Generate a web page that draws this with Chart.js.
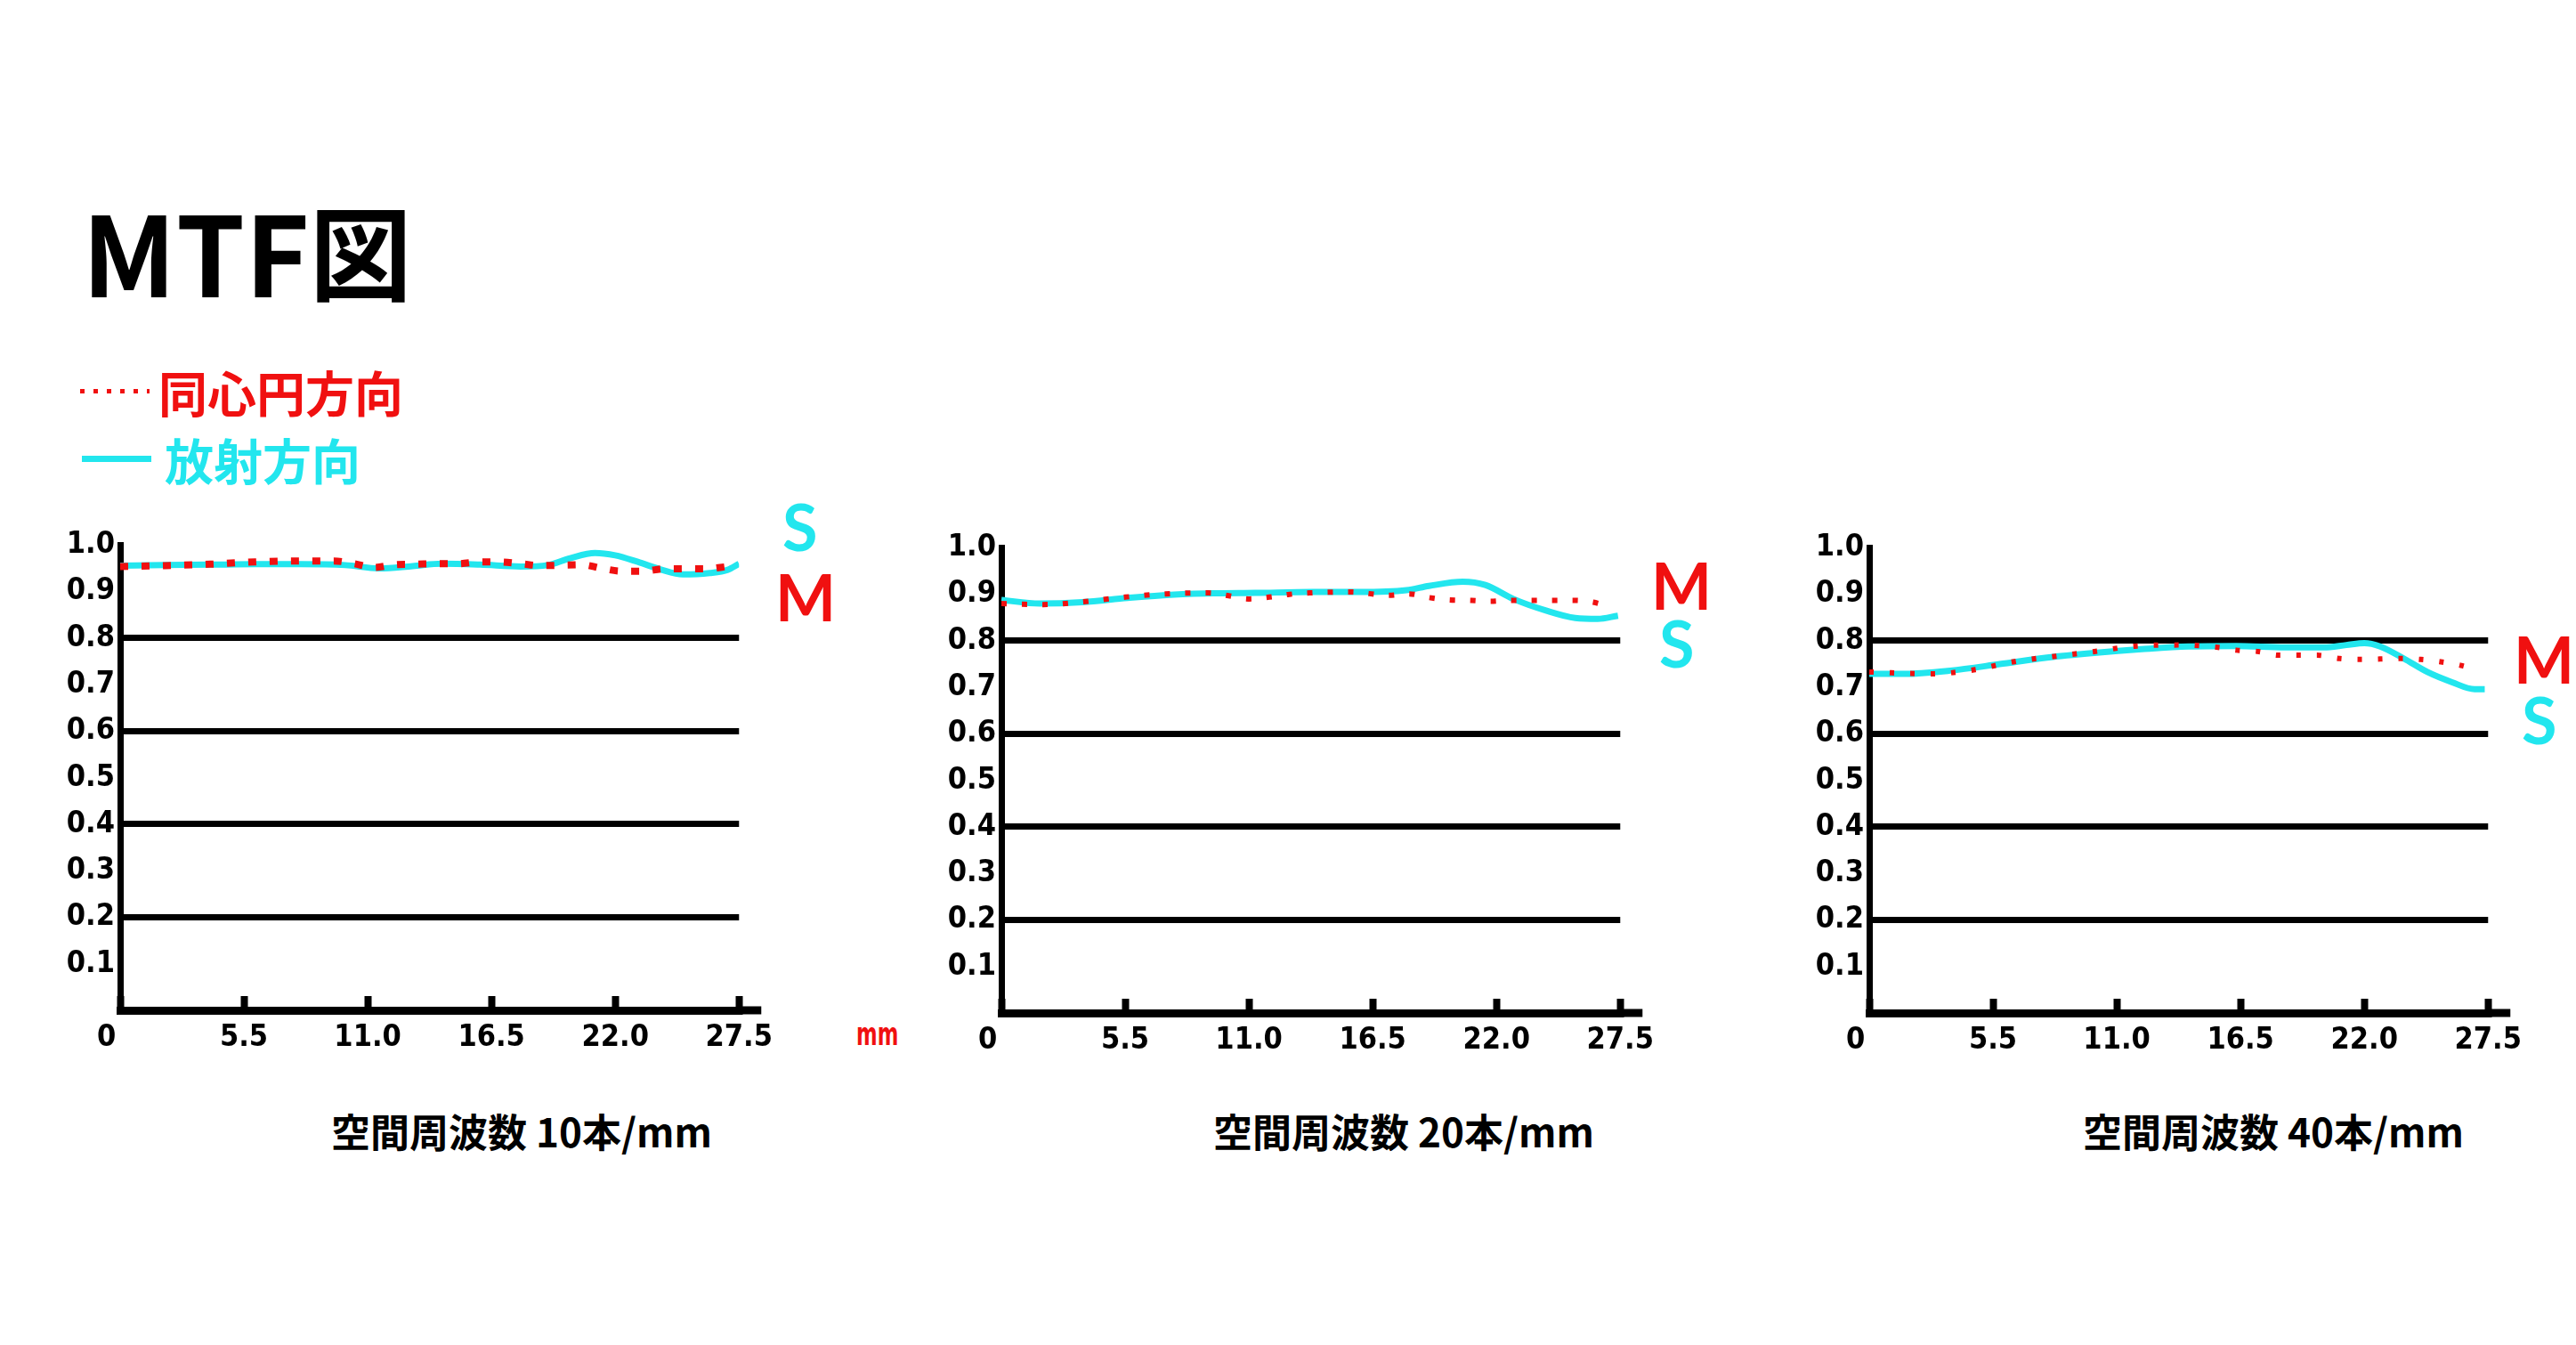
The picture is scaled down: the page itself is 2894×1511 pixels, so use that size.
<!DOCTYPE html>
<html lang="ja">
<head>
<meta charset="utf-8">
<title>MTF図</title>
<script src="https://cdn.jsdelivr.net/npm/chart.js@4.4.1/dist/chart.umd.min.js"></script>
<style>
  html, body { margin: 0; padding: 0; background: #fff; }
  body { width: 2894px; height: 1511px; position: relative; overflow: hidden; font-family: 'Noto Sans CJK JP', sans-serif; }
  canvas { position: absolute; }
  #title { position: absolute; left: 92px; top: 218px; font-size: 124px; line-height: 1; font-weight: 700; color: #000; white-space: nowrap; }
  #title span { font-size: 115px; vertical-align: 5px; }
  .legend-row { position: absolute; display: flex; align-items: center; height: 60px; font-size: 55px; font-weight: 700; line-height: 60px; white-space: nowrap; }
  #leg-m { left: 90px; top: 409px; color: #f01010; }
  #leg-m .swatch { width: 78px; height: 5px; background: repeating-linear-gradient(to right, #f01010 0 5px, transparent 5px 15px); margin-right: 10px; }
  #leg-s { left: 92px; top: 485px; color: #22e6ee; }
  #leg-s .swatch { width: 78px; height: 7px; background: #22e6ee; margin-right: 15px; }
  .caption { position: absolute; width: 600px; top: 1240px; text-align: center; font-size: 44px; line-height: 60px; font-weight: 700; color: #000; white-space: nowrap; }
  .tag { position: absolute; font-family: Lato, 'Noto Sans', sans-serif; font-weight: 700; font-size: 72px; line-height: 72px; }
  .tag.m { color: #f01010; }
  .tag.s { color: #22e6ee; }
  #unit { position: absolute; left: 962px; top: 1142px; color: #f01010; font-family: 'Liberation Sans Narrow', 'DejaVu Sans Condensed', sans-serif; font-weight: 700; font-size: 36px; line-height: 40px; transform: scaleX(0.7); transform-origin: left top; }
</style>
</head>
<body>
<div id="title">MTF<span>図</span></div>
<div class="legend-row" id="leg-m"><div class="swatch"></div>同心円方向</div>
<div class="legend-row" id="leg-s"><div class="swatch"></div>放射方向</div>

<canvas id="c10" width="840" height="619" style="left:55px; top:586px;"></canvas>
<canvas id="c20" width="840" height="619" style="left:1045px; top:589px;"></canvas>
<canvas id="c40" width="840" height="619" style="left:2020px; top:589px;"></canvas>

<div class="tag s" style="left:879px; top:555px;">S</div>
<div class="tag m" style="left:871px; top:634px;">M</div>
<div class="tag m" style="left:1855px; top:621px;">M</div>
<div class="tag s" style="left:1864px; top:686px;">S</div>
<div class="tag m" style="left:2824px; top:704px;">M</div>
<div class="tag s" style="left:2833px; top:772px;">S</div>
<div id="unit">mm</div>

<div class="caption" style="left:286px;">空間周波数 10本/mm</div>
<div class="caption" style="left:1277px;">空間周波数 20本/mm</div>
<div class="caption" style="left:2254px;">空間周波数 40本/mm</div>

<script>
// axis ticks
const freqTicks = [0, 5.5, 11.0, 16.5, 22.0, 27.5];
const mtfTicks = [0.1, 0.2, 0.3, 0.4, 0.5, 0.6, 0.7, 0.8, 0.9, 1.0];
const gridValues = [0.2, 0.4, 0.6, 0.8];

// 10本/mm
const s10Freq = [0, 2, 4, 6, 8, 10, 11.5, 13, 14.3, 16, 17.8, 19, 20, 21.1, 22, 23, 24, 25, 26.2, 27, 27.5];
const s10Mtf = [0.956, 0.957, 0.958, 0.959, 0.959, 0.957, 0.950, 0.955, 0.960, 0.958, 0.954, 0.957, 0.972, 0.983, 0.978, 0.964, 0.948, 0.937, 0.940, 0.947, 0.960];
const m10Freq = [0, 2, 4, 6, 8, 9.5, 10.4, 11.3, 12.2, 13.1, 14.3, 15, 16, 16.8, 17.8, 18.7, 20.5, 21.4, 22.3, 23.2, 24.2, 26, 27];
const m10Mtf = [0.954, 0.956, 0.959, 0.964, 0.966, 0.966, 0.960, 0.952, 0.958, 0.959, 0.960, 0.960, 0.964, 0.964, 0.960, 0.956, 0.958, 0.950, 0.944, 0.944, 0.949, 0.949, 0.954];

// 20本/mm
const s20Freq = [0, 1.7, 3.6, 5.6, 7.5, 9.4, 11.3, 13.8, 15.9, 18, 19, 20.5, 21.5, 22.75, 24.2, 25.5, 26.5, 27.4];
const s20Mtf = [0.888, 0.880, 0.883, 0.892, 0.899, 0.902, 0.903, 0.905, 0.905, 0.909, 0.918, 0.927, 0.920, 0.890, 0.865, 0.849, 0.847, 0.854];
const m20Freq = [0, 1.85, 3.65, 5.5, 7.3, 9.2, 10.1, 11.0, 11.9, 12.8, 13.7, 15.5, 17.2, 18.1, 19.0, 19.9, 20.9, 21.7, 22.6, 24.4, 25.4, 26.3, 27.1];
const m20Mtf = [0.880, 0.878, 0.884, 0.894, 0.901, 0.903, 0.897, 0.890, 0.894, 0.900, 0.903, 0.905, 0.898, 0.901, 0.893, 0.888, 0.887, 0.885, 0.887, 0.887, 0.887, 0.883, 0.872];

// 40本/mm
const s40Freq = [0, 1.5, 3.6, 5.8, 7.9, 10, 12.1, 14.2, 16.3, 18.5, 20.2, 21.2, 22, 22.7, 23.75, 24.8, 25.9, 26.9, 27.35];
const s40Mtf = [0.729, 0.729, 0.736, 0.750, 0.764, 0.774, 0.782, 0.788, 0.789, 0.786, 0.786, 0.791, 0.795, 0.788, 0.762, 0.733, 0.711, 0.696, 0.696];
const m40Freq = [0, 2.8, 4.7, 6.4, 8.3, 10, 11.9, 13.8, 15.5, 16.3, 17.3, 18.2, 19.9, 20.9, 21.8, 23.6, 24.5, 25.4, 26.3, 27.1];
const m40Mtf = [0.733, 0.729, 0.738, 0.755, 0.767, 0.777, 0.789, 0.791, 0.786, 0.780, 0.777, 0.769, 0.769, 0.762, 0.760, 0.762, 0.760, 0.755, 0.747, 0.736];

const RED = '#f01010';
const CYAN = '#22e6ee';
const tickFont = { family: "'Liberation Sans Narrow', 'DejaVu Sans Condensed', sans-serif", size: 34, weight: 'bold' };

// the hand-drawn x axis runs a bit past 27.5
const axisTail = {
  id: 'axisTail',
  afterDraw(chart) {
    const { ctx, chartArea } = chart;
    ctx.save();
    ctx.strokeStyle = '#000';
    ctx.lineWidth = 9;
    ctx.beginPath();
    ctx.moveTo(chartArea.right - 2, chartArea.bottom);
    ctx.lineTo(chartArea.right + 25, chartArea.bottom);
    ctx.stroke();
    ctx.restore();
  }
};

const toPoints = (xs, ys) => xs.map((x, i) => ({ x, y: ys[i] }));

function mtfChart(id, sFreq, sMtf, mFreq, mMtf, dotWidth, dotDash) {
  return new Chart(document.getElementById(id), {
    type: 'line',
    data: {
      datasets: [
        {
          label: '同心円方向',
          data: toPoints(mFreq, mMtf),
          borderColor: RED,
          borderWidth: dotWidth,
          borderDash: dotDash,
          borderCapStyle: 'butt',
          cubicInterpolationMode: 'monotone',
          pointRadius: 0,
          fill: false
        },
        {
          label: '放射方向',
          data: toPoints(sFreq, sMtf),
          borderColor: CYAN,
          borderWidth: 7,
          cubicInterpolationMode: 'monotone',
          pointRadius: 0,
          fill: false
        }
      ]
    },
    options: {
      responsive: false,
      animation: false,
      events: [],
      layout: { padding: { top: 24, right: 45, left: 0, bottom: 0 } },
      plugins: { legend: { display: false }, tooltip: { enabled: false } },
      scales: {
        x: {
          type: 'linear',
          min: 0,
          max: 27.5,
          afterBuildTicks: (s) => { s.ticks = freqTicks.map(v => ({ value: v })); },
          afterFit: (s) => { s.height = 70; },
          grid: { drawOnChartArea: false, drawTicks: true, tickLength: -16, tickWidth: 8, tickColor: '#000' },
          border: { color: '#000', width: 9 },
          ticks: {
            padding: 27,
            color: '#000',
            font: tickFont,
            maxRotation: 0,
            autoSkip: false,
            callback: (v) => v === 0 ? '0\u2003' : v.toFixed(1)
          }
        },
        y: {
          min: 0,
          max: 1,
          afterBuildTicks: (s) => { s.ticks = mtfTicks.map(v => ({ value: v })); },
          afterFit: (s) => { s.width = 80; },
          grid: {
            drawTicks: false,
            lineWidth: 7,
            color: (ctx) => gridValues.some(g => Math.abs(g - ctx.tick.value) < 1e-6) ? '#000' : 'rgba(0,0,0,0)'
          },
          border: { color: '#000', width: 7 },
          ticks: {
            padding: 6,
            color: '#000',
            font: tickFont,
            autoSkip: false,
            callback: (v) => v.toFixed(1)
          }
        }
      }
    },
    plugins: [axisTail]
  });
}

mtfChart('c10', s10Freq, s10Mtf, m10Freq, m10Mtf, 8, [9, 15]);
mtfChart('c20', s20Freq, s20Mtf, m20Freq, m20Mtf, 6, [6, 17]);
mtfChart('c40', s40Freq, s40Mtf, m40Freq, m40Mtf, 6, [5, 18]);
</script>
</body>
</html>
